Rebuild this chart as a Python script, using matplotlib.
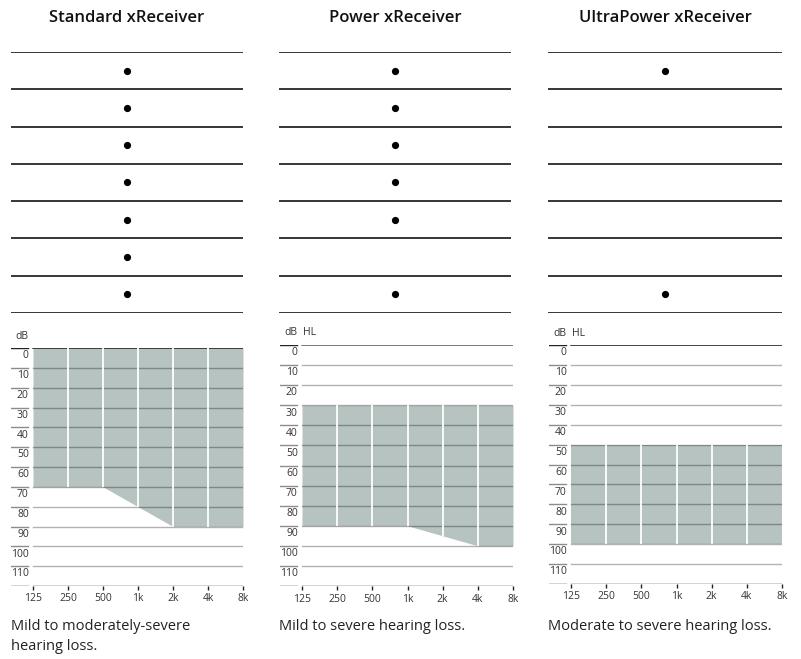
import numpy as np
import matplotlib
matplotlib.use("Agg")
import matplotlib.pyplot as plt

plt.rcParams['font.family'] = ['Open Sans', 'DejaVu Sans']

# ---- data ----
titles = ['Standard xReceiver', 'Power xReceiver', 'UltraPower xReceiver']
captions = ['Mild to moderately-severe\nhearing loss.',
            'Mild to severe hearing loss.',
            'Moderate to severe hearing loss.']
db_labels = ['dB', 'dB HL', 'dB HL']

# feature rows (1 = dot)
standard_rows = [1, 1, 1, 1, 1, 1, 1]
power_rows = [1, 1, 1, 1, 1, 0, 1]
ultrapower_rows = [1, 0, 0, 0, 0, 0, 1]

freq_labels = ['125', '250', '500', '1k', '2k', '4k', '8k']
db_ticks = [0, 10, 20, 30, 40, 50, 60, 70, 80, 90, 100, 110]

# fitting range (upper / lower hearing loss, dB HL) per frequency
standard_upper = [0, 0, 0, 0, 0, 0, 0]
standard_lower = [70, 70, 70, 80, 90, 90, 90]
power_upper = [30, 30, 30, 30, 30, 30, 30]
power_lower = [90, 90, 90, 90, 95, 100, 100]
ultra_upper = [50, 50, 50, 50, 50, 50, 50]
ultra_lower = [100, 100, 100, 100, 100, 100, 100]

rows_all = [standard_rows, power_rows, ultrapower_rows]
upper_all = [standard_upper, power_upper, ultra_upper]
lower_all = [standard_lower, power_lower, ultra_lower]

# ---- layout (pixels) ----
W, H = 801, 659
fig = plt.figure(figsize=(W / 100, H / 100), dpi=100)


def rect(x0, y0, x1, y1):
    return [x0 / W, 1 - y1 / H, (x1 - x0) / W, (y1 - y0) / H]


table_x = [(11, 243), (279, 511), (548, 782)]
plot_x = [(33, 243), (302, 513), (571, 782)]
plot_y = [(348, 586), (345, 586), (345, 584)]
table_y = (52, 313)
lab = 0.63

fill_col = '#b7c3c1'
txt_col = '#333333'

for i in range(3):
    # ---- feature table ----
    tx0, tx1 = table_x[i]
    tax = fig.add_axes(rect(tx0, table_y[0], tx1, table_y[1]))
    tax.set_xlim(0, 1)
    tax.set_ylim(7, 0)
    tax.axis('off')
    n = len(rows_all[i])
    tax.hlines(np.arange(n + 1), 0, 1, color='black', lw=1.1)
    ys = [r + 0.5 for r in range(n) if rows_all[i][r]]
    tax.scatter([0.5] * len(ys), ys, s=27, color='black', lw=0, zorder=3)
    tax.text(0.5, -0.92, titles[i], ha='center', va='center',
             fontsize=12, fontweight='semibold', color='#111111')

    # ---- audiogram ----
    px0, px1 = plot_x[i]
    unit = (px1 - px0) / 6
    ax0 = px0 - lab * unit
    py0, py1 = plot_y[i]
    ax = fig.add_axes(rect(ax0, py0, px1, py1))
    ax.set_xlim(-lab, 6)
    ax.set_ylim(120, 0)
    ax.axis('off')

    x = np.arange(len(freq_labels))
    ax.fill_between(x, upper_all[i], lower_all[i], color=fill_col, lw=0, zorder=1)

    # grid lines
    for v in db_ticks[1:]:
        ax.plot([0, 6], [v, v], color='black', alpha=0.3, lw=1, zorder=2)
        ax.plot([-lab, -0.14], [v, v], color='black', alpha=0.45, lw=1, zorder=2)
    top_col = '#111111' if i != 1 else '#555555'
    ax.plot([0, 6], [0, 0], color=top_col, lw=1.1, zorder=3)
    ax.plot([-lab, -0.14], [0, 0], color='#222222', lw=1, zorder=3)
    ax.plot([0, 6], [120, 120], color='#222222', lw=1, zorder=3)
    ax.plot([-lab, -0.14], [120, 120], color='#222222', lw=1, zorder=3)

    # white separators inside the range
    ax.vlines(x[1:-1], np.array(upper_all[i])[1:-1], np.array(lower_all[i])[1:-1],
              color='white', lw=1.3, zorder=4)

    # frequency ticks and labels
    ax.vlines(x, 120, 122, color='#222222', lw=1, clip_on=False, zorder=3)
    for xi, lbl in zip(x, freq_labels):
        ax.text(xi, 126.5, lbl, ha='center', va='center', fontsize=7.5,
                color=txt_col, clip_on=False)

    # dB labels
    for v in db_ticks:
        ax.text(-0.12, v + 3.9, str(v), ha='right', va='center', fontsize=7.5,
                color=txt_col, clip_on=False)
    parts = db_labels[i].split()
    ax.text(-0.12, -6, parts[0], ha='right', va='center', fontsize=7.5,
            color=txt_col, clip_on=False)
    if len(parts) > 1:
        ax.text(0.02, -6, parts[1], ha='left', va='center', fontsize=7.5,
                color=txt_col, clip_on=False)

    # caption
    fig.text(tx0 / W, 1 - 619 / H, captions[i], ha='left', va='top',
             fontsize=10.5, color='#222222', linespacing=1.42)

fig.savefig('out.png', dpi=100)
